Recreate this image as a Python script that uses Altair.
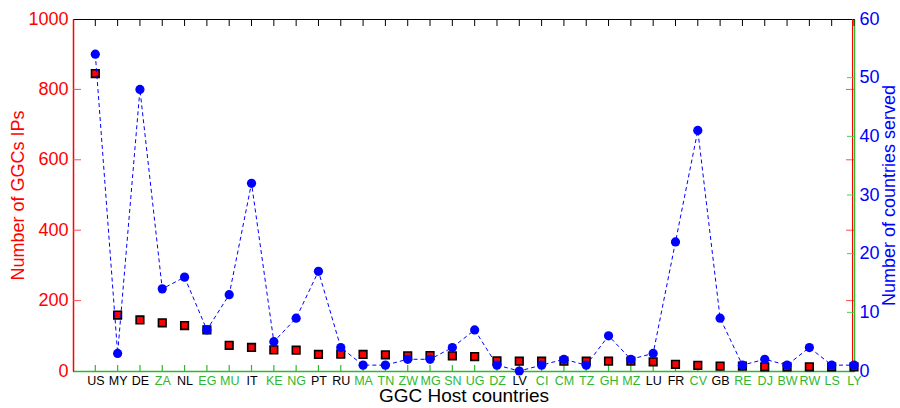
import altair as alt
import pandas as pd

countries = ["US", "MY", "DE", "ZA", "NL", "EG", "MU", "IT", "KE", "NG", "PT", "RU",
             "MA", "TN", "ZW", "MG", "SN", "UG", "DZ", "LV", "CI", "CM", "TZ", "GH",
             "MZ", "LU", "FR", "CV", "GB", "RE", "DJ", "BW", "RW", "LS", "LY"]
african = ["ZA", "EG", "MU", "KE", "NG", "MA", "TN", "ZW", "MG", "SN", "UG", "DZ",
           "CI", "CM", "TZ", "GH", "MZ", "CV", "RE", "DJ", "BW", "RW", "LS", "LY"]
ggc_ips = [845, 159, 145, 137, 129, 117, 73, 67, 60, 59, 47, 48, 47, 46, 43, 44, 43,
           41, 29, 28, 28, 28, 28, 28, 28, 26, 19, 16, 14, 14, 12, 12, 12, 12, 12]
countries_served = [54, 3, 48, 14, 16, 7, 13, 32, 5, 9, 17, 4, 1, 1, 2, 2, 4, 7, 1,
                    0, 1, 2, 1, 6, 2, 3, 22, 41, 9, 1, 2, 1, 4, 1, 1]
left_values = [0, 200, 400, 600, 800, 1000]
left_ticks = [200, 400, 600, 800]
right_values = [0, 10, 20, 30, 40, 50, 60]
right_ticks = [10, 20, 30, 40, 50]

W, H = 781, 352
RED = "#ff0000"
BLUE = "#0000ff"
GREEN = "#2fb82f"
TICKGREEN = "#4ccc4c"
FONT = "Liberation Sans"

n = len(countries)
df = pd.DataFrame({"pos": list(range(1, n + 1)), "country": countries,
                   "ggc": ggc_ips, "served": countries_served})
green_pos = [i + 1 for i, c in enumerate(countries) if c in african]
label_list = "[" + ",".join(f"'{c}'" for c in countries) + "]"

x_enc = alt.X(
    "pos:Q",
    scale=alt.Scale(domain=[0, n], nice=False, zero=False),
    axis=alt.Axis(
        values=list(range(1, n + 1)),
        labelExpr=f"{label_list}[datum.value - 1]",
        labelColor={"condition": {"test": f"indexof({green_pos}, datum.value) >= 0",
                                  "value": GREEN}, "value": "black"},
        labelFontSize=12.5, labelFont=FONT, labelPadding=3, labelOverlap=False,
        labelFlush=False, labelBound=False,
        ticks=False, grid=False, domainColor=GREEN, domainWidth=1.5,
        title="GGC Host countries", titleFontSize=19, titleFont=FONT,
        titleFontWeight="normal", titleColor="black", titlePadding=0,
    ),
)

y_left = alt.Y(
    "ggc:Q",
    scale=alt.Scale(domain=[0, 1000], nice=False),
    axis=alt.Axis(
        values=left_values, format="d", ticks=False, grid=False,
        domainColor=RED, domainWidth=1.5,
        labelColor=RED, labelFontSize=18, labelFont=FONT, labelPadding=5, labelFlush=False,
        title="Number of GGCs IPs", titleColor=RED, titleFontSize=18, titleFont=FONT,
        titleFontWeight="normal", titlePadding=0,
    ),
)

y_right = alt.Y(
    "served:Q",
    scale=alt.Scale(domain=[0, 60], nice=False),
    axis=alt.Axis(
        orient="right", values=right_values, format="d", ticks=False, grid=False,
        domainColor=GREEN, domainWidth=1.5,
        labelColor=BLUE, labelFontSize=18, labelFont=FONT, labelPadding=5, labelFlush=False,
        title="Number of countries served", titleColor=BLUE, titleFontSize=18,
        titleFont=FONT, titleFontWeight="normal", titlePadding=1, titleAngle=270,
        titleBaseline="top",
    ),
)

lt = pd.DataFrame({"ggc": left_ticks})
rt = pd.DataFrame({"served": right_ticks})

top_ticks = alt.Chart(df).mark_rule(color="black", strokeWidth=1).encode(
    x=x_enc, y=alt.value(0), y2=alt.value(7))
bottom_ticks = alt.Chart(df).mark_rule(color=GREEN, strokeWidth=1.2).encode(
    x=x_enc, y=alt.value(H), y2=alt.value(H - 6))
left_tick_rules = alt.Chart(lt).mark_rule(color="#ff4d4d", strokeWidth=1).encode(
    y=y_left, x=alt.value(0), x2=alt.value(8))
right_red_ticks = alt.Chart(lt).mark_rule(color="#ff4d4d", strokeWidth=1).encode(
    y=y_left, x=alt.value(W - 8), x2=alt.value(W))
right_red_line = alt.Chart(lt).mark_rule(color=RED, strokeWidth=1).encode(
    x=alt.value(W - 1.5), y=alt.value(0), y2=alt.value(H))
squares = alt.Chart(df).mark_square(
    size=58, color=RED, stroke="black", strokeWidth=1.6, opacity=1).encode(
    x=x_enc, y=y_left)

left_group = alt.layer(top_ticks, bottom_ticks, left_tick_rules, right_red_ticks,
                       right_red_line, squares)

right_tick_rules = alt.Chart(rt).mark_rule(color=TICKGREEN, strokeWidth=1).encode(
    y=y_right, x=alt.value(W - 7), x2=alt.value(W))
line = alt.Chart(df).mark_line(color=BLUE, strokeWidth=1, strokeDash=[4, 3]).encode(
    x=x_enc, y=y_right)
circles = alt.Chart(df).mark_circle(size=85, color=BLUE, opacity=1).encode(
    x=x_enc, y=y_right)

right_group = alt.layer(right_tick_rules, line, circles)

chart = alt.layer(left_group, right_group).resolve_scale(y="independent").properties(
    width=W, height=H,
    autosize=alt.AutoSizeParams(type="none"),
    padding={"left": 73, "top": 19, "right": 46, "bottom": 37},
    background="white",
).configure_view(stroke="black", strokeWidth=1)

chart.save("out.html", embed_options={"renderer": "svg", "actions": False})
